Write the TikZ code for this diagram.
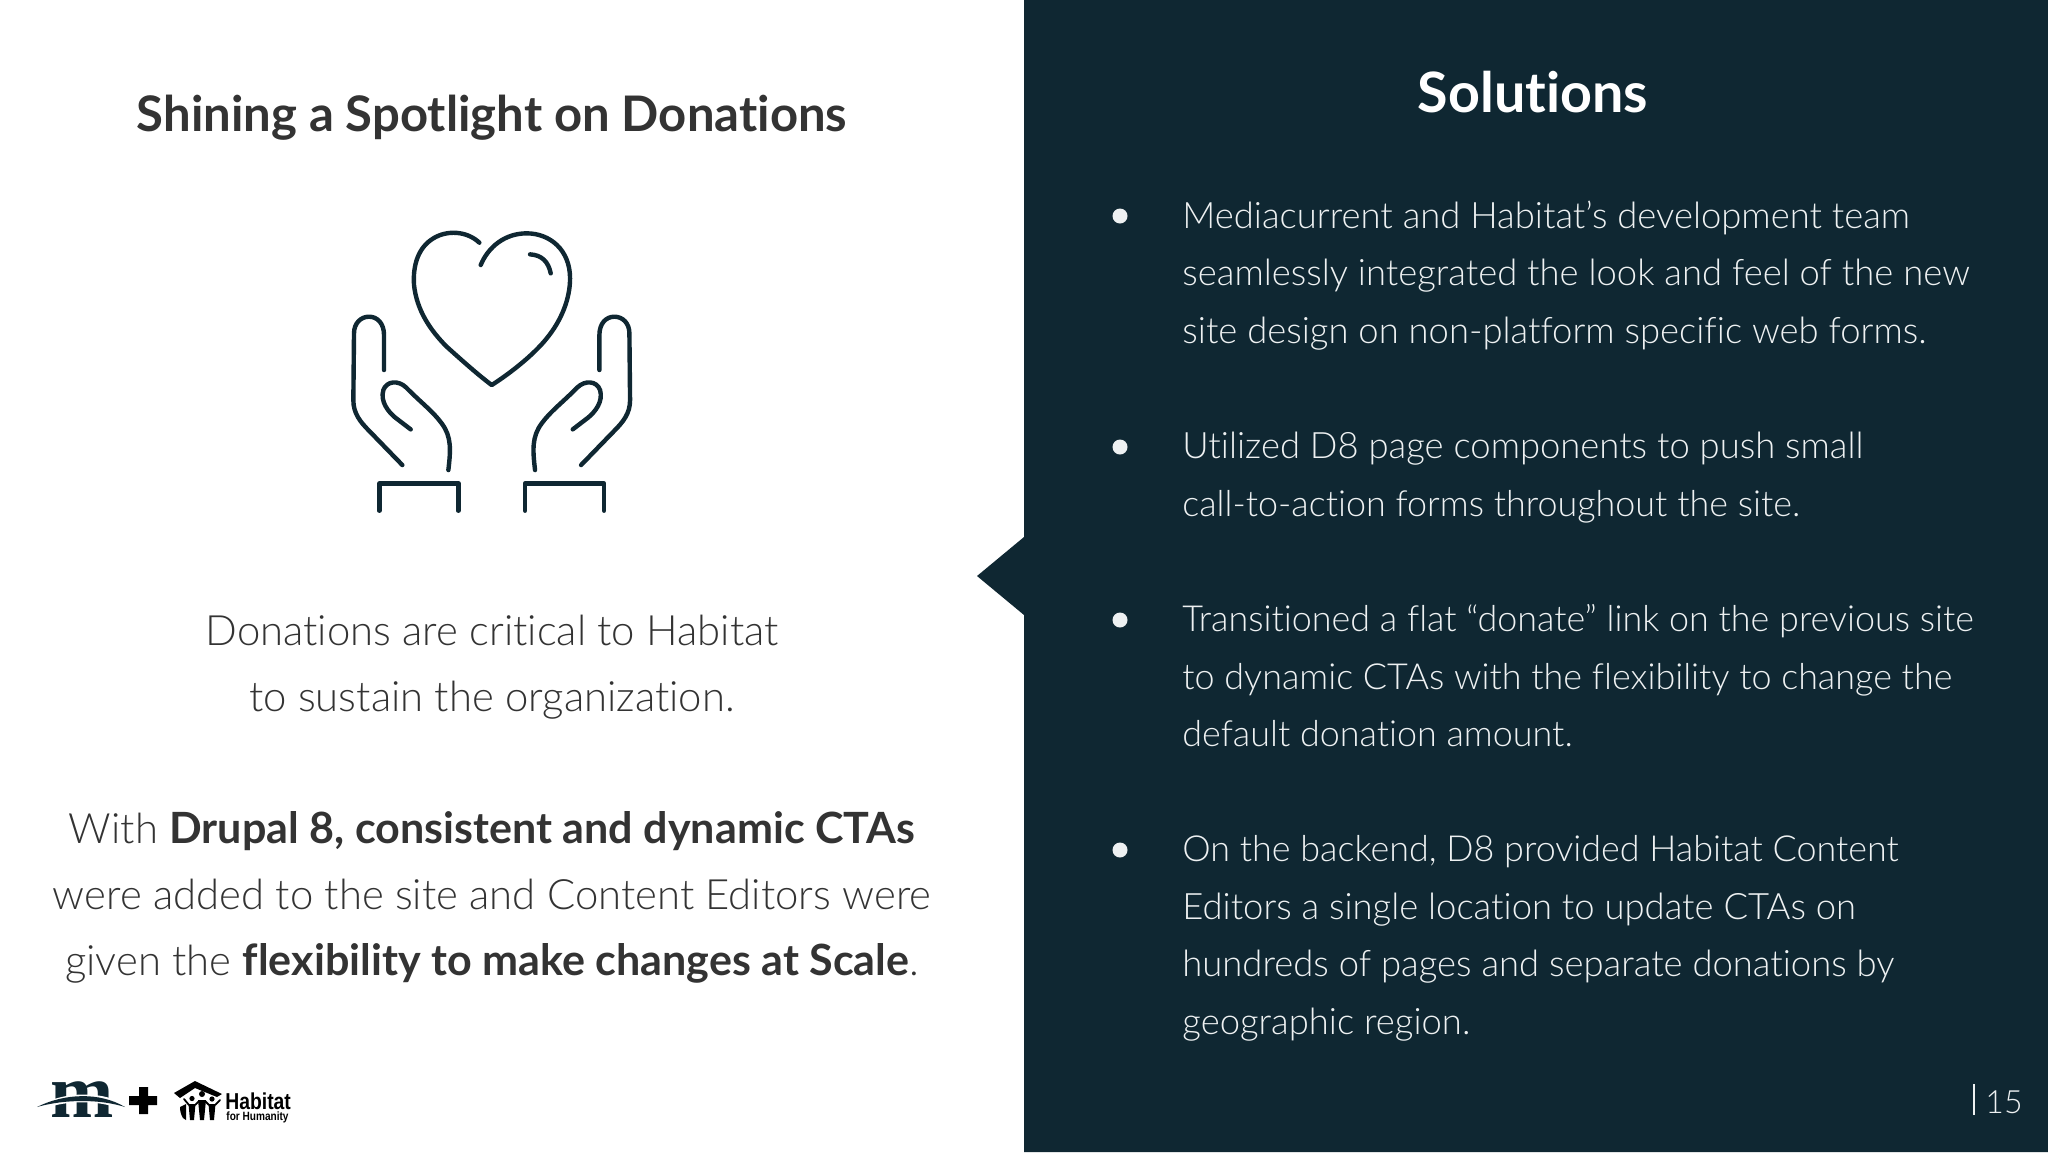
\documentclass[tikz,border=0pt]{standalone}
\usepackage{fontspec}
\setmainfont{Lato}[UprightFont=* Light,BoldFont=* Bold,Ligatures=NoCommon,BoldFeatures={Scale=1.03}]
\newfontfamily\logofont{Liberation Sans}[FakeStretch=0.84]
\newfontfamily\mfont{Liberation Serif}
\definecolor{panel}{HTML}{0F2732}
\definecolor{leftink}{HTML}{333333}
\definecolor{rightink}{HTML}{EEF1F2}
\newcommand{\handicon}{%
  \draw[iconline] (192,480) -- (192,375) .. controls (192,340) and (172,320) .. (147,320)
    .. controls (122,320) and (102,340) .. (102,370) -- (100,570)
    .. controls (100,610) and (120,635) .. (150,665) -- (247,765);
  \draw[iconline] (385,780) .. controls (392,720) and (395,680) .. (365,640) .. controls (340,605) and (300,575) .. (258,532)
    .. controls (235,510) and (200,512) .. (190,540) .. controls (180,575) and (205,605) .. (225,622) -- (272,658);
  \draw[iconline] (178,902) -- (178,820) -- (415,820) -- (415,902);
}
\begin{document}
\begin{tikzpicture}[x=0.5pt,y=-0.5pt,
    titletext/.style ={font=\fontsize{23.8}{28}\selectfont\bfseries, text=leftink, inner sep=0pt},
    lefttext/.style ={font=\fontsize{20.9}{24}\selectfont, text=leftink, inner sep=0pt, anchor=base},
    righttext/.style ={font=\fontsize{18.2}{22}\selectfont, text=rightink, inner sep=0pt, anchor=base west},
    widetext/.style ={righttext, font=\fontsize{17.95}{22}\selectfont},
    dot/.style ={circle, fill=rightink, inner sep=0pt, minimum size=7.5pt},
    iconline/.style ={draw=panel, line width=2.2pt, line cap=round, line join=round},
    armline/.style ={draw=black, line width=0.9pt, line cap=round}]
   \useasboundingbox (0,0) rectangle (2048,1152);
   \fill[white] (0,0) rectangle (2048,1152);
   \fill[panel] (1024,0) -- (2048,0) -- (2048,1152) -- (1024,1152) -- (1024,615) -- (977,576) -- (1024,537) -- cycle;

   \node[titletext] (title) at (492,118) {Shining a Spotlight on Donations};
   \node[titletext, text=white, font=\fontsize{27}{30}\selectfont\bfseries] (solutions) at (1533,92) {Solutions};

   % icon
   \begin{scope}[shift={(320,210)},x=0.1667pt,y=-0.1667pt]
     \draw[iconline] (478,98) .. controls (440,62) and (380,60) .. (340,85) .. controls (295,112) and (278,165) .. (282,225)
       .. controls (290,300) and (330,360) .. (380,410) .. controls (430,455) and (475,495) .. (515,525)
       .. controls (570,490) and (640,435) .. (680,385) .. controls (725,330) and (750,265) .. (750,205)
       .. controls (750,120) and (690,70) .. (620,70) .. controls (555,70) and (505,110) .. (482,165);
     \draw[iconline] (630,133) .. controls (665,135) and (685,155) .. (692,190);
     \handicon
     \begin{scope}[shift={(1030,0)},x=-0.1667pt]
       \handicon
     \end{scope}
   \end{scope}

   \node[lefttext] (l1) at (492,645) {Donations are critical to Habitat};
   \node[lefttext] (l2) at (492,711) {to sustain the organization.};
   \node[lefttext] (l3) at (492,843) {With \textbf{Drupal 8, consistent and dynamic CTAs}};
   \node[lefttext] (l4) at (492,909) {were added to the site and Content Editors were};
   \node[lefttext] (l5) at (492,975) {given the \textbf{flexibility to make changes at Scale}.};

   \node[dot] (d1) at (1120,216) {};
   \node[righttext] (a1) at (1182,228) {Mediacurrent and Habitat's development team};
   \node[righttext] (a2) at (1182,285) {seamlessly integrated the look and feel of the new};
   \node[righttext] (a3) at (1182,343) {site design on non-platform specific web forms.};
   \node[dot] (d2) at (1120,447) {};
   \node[righttext] (b1) at (1182,458) {Utilized D8 page components to push small};
   \node[widetext] (b2) at (1182,516) {call-to-action forms throughout the site.};
   \node[dot] (d3) at (1120,620) {};
   \node[widetext] (c1) at (1182,631) {Transitioned a flat “donate” link on the previous site};
   \node[widetext] (c2) at (1182,689) {to dynamic CTAs with the flexibility to change the};
   \node[widetext] (c3) at (1182,746) {default donation amount.};
   \node[dot] (d4) at (1120,850) {};
   \node[widetext] (e1) at (1182,861) {On the backend, D8 provided Habitat Content};
   \node[righttext] (e2) at (1182,919) {Editors a single location to update CTAs on};
   \node[righttext] (e3) at (1182,976) {hundreds of pages and separate donations by};
   \node[righttext] (e4) at (1182,1034) {geographic region.};

   % page number
   \fill[rightink] (1973,1084) rectangle (1975,1115);
   \node[font=\fontsize{16}{20}\selectfont, text=rightink, inner sep=0pt] (page) at (2004,1102) {15};

   % logos
   \node[font=\mfont\fontsize{38}{40}\selectfont\bfseries, text=panel, inner sep=0pt, anchor=base] (mlogo) at (82,1117) {m};
   \fill[white] (36,1108) .. controls (60,1090) and (110,1090) .. (128,1108) -- (128,1112) .. controls (100,1098) and (60,1100) .. (36,1112) -- cycle;
   \fill[panel] (37,1107) .. controls (65,1093) and (100,1092) .. (125,1107) .. controls (100,1099) and (65,1099) .. (37,1107) -- cycle;
   \fill[black] (139,1087) -- (148,1087) -- (148,1096) -- (157,1096) -- (157,1105) -- (148,1105) -- (148,1114) -- (139,1114) -- (139,1105) -- (129,1105) -- (129,1096) -- (139,1096) -- cycle;
   \fill[black] (174,1093) -- (195,1081) -- (222,1094) -- (217,1097) -- (195,1088) -- (180,1098) -- cycle;
   \fill[black] (180,1107) -- (186,1104) -- (186,1120) -- (183,1118) .. controls (181,1115) and (180,1111) .. (180,1107) -- cycle;
   \fill[black] (192,1098.5) circle (2.6);
   \fill[black] (202,1094) circle (3);
   \fill[black] (212,1099) circle (2.6);
   \fill[black] (188.5,1104) -- (195.5,1104) -- (194,1120) -- (190,1120) -- cycle;
   \fill[black] (198,1100) -- (206,1100) -- (204,1120) -- (200,1120) -- cycle;
   \fill[black] (208.5,1104) -- (215.5,1104) -- (214,1120) -- (210,1120) -- cycle;
   \draw[armline] (184,1099) -- (189,1105);
   \draw[armline] (195,1105) -- (199,1101);
   \draw[armline] (205,1101) -- (209,1105);
   \draw[armline] (215,1105) -- (220,1100);
   \node[font=\logofont\fontsize{11.5}{12}\selectfont\bfseries, text=black, inner sep=0pt, anchor=base west] (hab1) at (225,1109) {Habitat};
   \node[font=\logofont\fontsize{6}{7}\selectfont\bfseries, text=black, inner sep=0pt, anchor=base west] (hab2) at (226,1120) {for Humanity};
\end{tikzpicture}
\end{document}
